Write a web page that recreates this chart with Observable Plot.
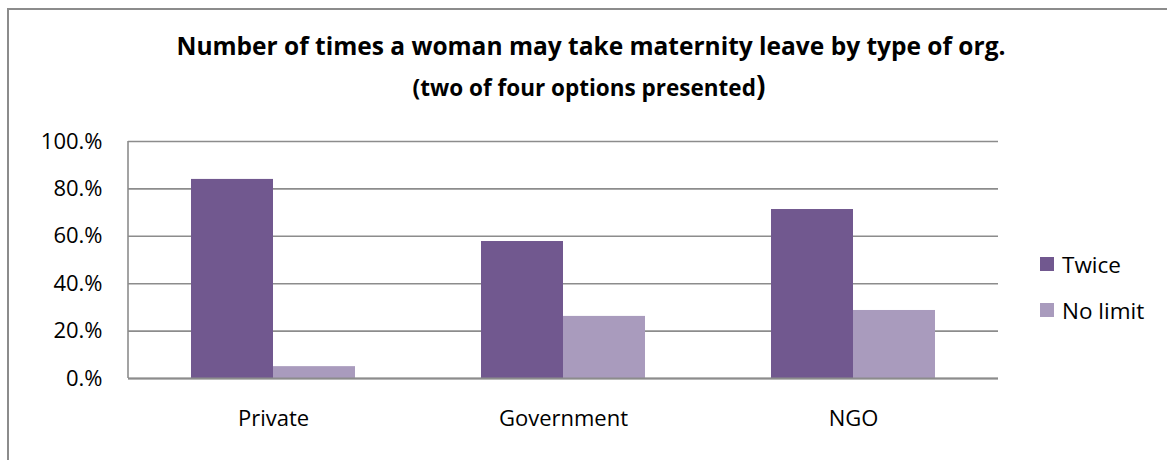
<!DOCTYPE html>
<html>
<head>
<meta charset="utf-8">
<script src="https://cdn.jsdelivr.net/npm/d3@7"></script>
<script src="https://cdn.jsdelivr.net/npm/@observablehq/plot@0.6"></script>
<style>
  html, body { margin: 0; padding: 0; background: #fff; }
  body { width: 1167px; height: 460px; position: relative; overflow: hidden; font-family: "Open Sans", sans-serif; }
  #frame { position: absolute; left: 7px; top: 8px; width: 1200px; height: 500px; border-left: 2px solid #8c8c8c; border-top: 2px solid #8c8c8c; }
  #title { position: absolute; left: 0; width: 1182px; top: 29px; text-align: center; font-weight: 700; font-size: 24.5px; color: #000; white-space: nowrap; }
  #subtitle { position: absolute; left: 0; width: 1178px; top: 71px; text-align: center; font-weight: 700; font-size: 22.5px; color: #000; white-space: nowrap; }
  #subtitle .big { font-size: 28px; line-height: 1; }
  #chart { position: absolute; left: 0; top: 120px; }
  #legend { position: absolute; left: 1040px; top: 250px; font-size: 22.5px; color: #000; }
  .item { display: flex; align-items: center; height: 28px; margin-bottom: 18px; }
  .sw { width: 14px; height: 14px; margin-right: 8px; }
</style>
</head>
<body>
<div id="frame"></div>
<div id="title">Number of times a woman may take maternity leave by type of org.</div>
<div id="subtitle">(two of four options presented<span class="big">)</span></div>
<div id="chart"></div>
<div id="legend"></div>
<script>
const categories = ["Private", "Government", "NGO"];
const seriesNames = ["Twice", "No limit"];
const twice = [84.0, 57.8, 71.3];
const noLimit = [5.0, 26.2, 28.7];
const yTicks = [0, 20, 40, 60, 80, 100];
const colors = ["#71588F", "#A99BBD"];

const data = [];
categories.forEach((c, i) => {
  data.push({cat: c, series: seriesNames[0], value: twice[i]});
  data.push({cat: c, series: seriesNames[1], value: noLimit[i]});
});

const chart = Plot.plot({
  width: 1000,
  height: 330,
  marginLeft: 128,
  marginRight: 2,
  marginTop: 21,
  marginBottom: 72,
  style: {fontFamily: "Open Sans, sans-serif", fontSize: "22px", color: "#000", background: "transparent"},
  fx: {domain: categories, padding: 0, label: null},
  x: {domain: seriesNames, paddingInner: 0, paddingOuter: 0.747, axis: null},
  y: {domain: [0, 100], ticks: yTicks, label: null, axis: null},
  color: {domain: seriesNames, range: colors},
  marks: [
    Plot.ruleY(yTicks, {stroke: "#8c8c8c", strokeWidth: 1.6}),
    Plot.barY(data, {fx: "cat", x: "series", y: "value", fill: "series"}),
    Plot.ruleY([0], {stroke: "#8c8c8c", strokeWidth: 2}),
    Plot.axisY({ticks: yTicks, tickSize: 0, tickPadding: 26, tickFormat: d => d + ".%", label: null, fill: "#000"}),
    Plot.axisFx({anchor: "bottom", tickSize: 0, tickPadding: 32, label: null, fill: "#000"})
  ]
});
document.getElementById("chart").appendChild(chart);

// left value-axis line drawn from the y scale
const ys = chart.scale("y");
const svgNS = "http://www.w3.org/2000/svg";
const line = document.createElementNS(svgNS, "line");
line.setAttribute("x1", 128); line.setAttribute("x2", 128);
line.setAttribute("y1", ys.apply(100)); line.setAttribute("y2", ys.apply(0));
line.setAttribute("stroke", "#8c8c8c"); line.setAttribute("stroke-width", 1.6);
chart.appendChild(line);

const legend = document.getElementById("legend");
seriesNames.forEach((s, i) => {
  const it = document.createElement("div");
  it.className = "item";
  const sw = document.createElement("div");
  sw.className = "sw";
  sw.style.background = colors[i];
  const t = document.createElement("span");
  t.textContent = s;
  it.appendChild(sw); it.appendChild(t);
  legend.appendChild(it);
});
</script>
</body>
</html>
